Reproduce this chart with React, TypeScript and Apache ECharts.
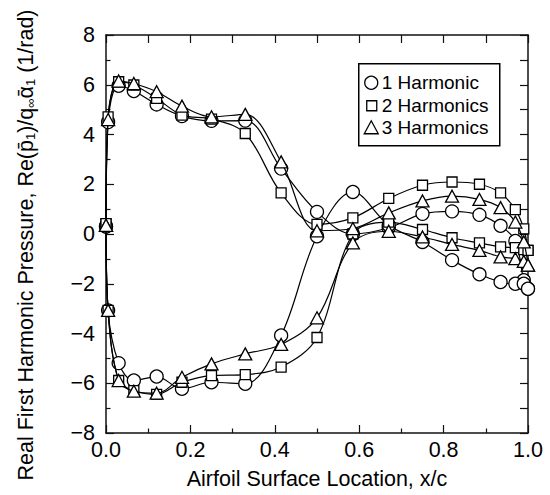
import React, { useEffect, useRef } from "react";
import * as echarts from "echarts";

// x/c stations
const X = [0, 0.005, 0.03, 0.066, 0.12, 0.18, 0.25, 0.33, 0.415, 0.5, 0.585, 0.67, 0.75, 0.82, 0.885, 0.935, 0.97, 0.99, 1.0];

// 1 Harmonic
const H1_UPPER = [0.3, 4.5, 5.96, 5.75, 5.21, 4.74, 4.55, 4.56, 2.63, 0.89, 0.0, 0.25, 0.81, 0.91, 0.77, 0.33, -0.28, -1.86, -2.2];
const H1_LOWER = [0.3, -3.07, -5.19, -5.89, -5.73, -6.22, -5.96, -6.02, -4.08, -0.09, 1.69, 0.35, -0.32, -1.05, -1.62, -1.93, -2.0, -2.0, -2.2];
// 2 Harmonics
const H2_UPPER = [0.42, 4.71, 6.12, 5.99, 5.45, 4.78, 4.62, 4.04, 1.65, 0.39, 0.65, 1.43, 1.96, 2.09, 2.0, 1.65, 0.98, 0.21, -0.66];
const H2_LOWER = [0.42, -3.07, -5.89, -6.3, -6.45, -5.96, -5.69, -5.65, -5.35, -4.16, 0.0, 0.48, 0.18, -0.15, -0.36, -0.52, -0.55, -0.63, -0.66];
// 3 Harmonics
const H3_UPPER = [0.35, 4.6, 6.15, 6.05, 5.72, 5.14, 4.71, 4.81, 2.9, 0.13, 0.22, 0.85, 1.33, 1.52, 1.39, 1.06, 0.48, -0.32, -1.25];
const H3_LOWER = [0.35, -3.07, -5.89, -6.32, -6.4, -5.76, -5.22, -4.82, -4.44, -3.37, -0.36, 0.11, -0.12, -0.42, -0.66, -0.92, -0.99, -1.1, -1.25];

const SERIES_NAMES = ["1 Harmonic", "2 Harmonics", "3 Harmonics"];
const X_TITLE = "Airfoil Surface Location, x/c";
const Y_TITLE = "Real First Harmonic Pressure, Re(p\u0304{sub|1})/q{sub|\u221e}\u03b1\u0304{sub|1} (1/rad)";

const FONT = '"Liberation Sans", Arial, Helvetica, sans-serif';

export default function App() {
  const ref = useRef<HTMLDivElement>(null);
  useEffect(() => {
    if (!ref.current) return;
    const chart = echarts.init(ref.current, null, { renderer: "svg" });
    const defs = [
      { name: SERIES_NAMES[0], symbol: "circle", size: 13, up: H1_UPPER, lo: H1_LOWER },
      { name: SERIES_NAMES[1], symbol: "rect", size: 10, up: H2_UPPER, lo: H2_LOWER },
      { name: SERIES_NAMES[2], symbol: "triangle", size: [13, 12], up: H3_UPPER, lo: H3_LOWER },
    ];
    const series: any[] = [];
    defs.forEach((d, k) => {
      [d.up, d.lo].forEach((arr) => {
        series.push({
          name: d.name,
          type: "line",
          data: X.map((x, i) => [x, arr[i]]),
          symbol: d.symbol,
          symbolSize: d.size,
          showSymbol: true,
          smooth: 0.35,
          clip: false,
          z: 2 + k,
          silent: true,
          lineStyle: { color: "#000", width: 1.2 },
          itemStyle: { color: "#fff", borderColor: "#000", borderWidth: 1.3 },
          emphasis: { disabled: true },
        });
      });
    });
    const lineStyle = { color: "#111", width: 1.5 };
    chart.setOption({
      animation: false,
      backgroundColor: "#fff",
      grid: { left: 106, right: 22, top: 35, bottom: 62, show: false, containLabel: false, outerBoundsMode: "none" },
      xAxis: [
        {
          type: "value", min: 0, max: 1, interval: 0.2, position: "bottom",
          axisLine: { show: true, onZero: false, lineStyle },
          axisTick: { show: true, inside: true, length: 8, lineStyle: { color: "#111", width: 1.2 } },
          minorTick: { show: true, splitNumber: 2, length: 4.5, lineStyle: { color: "#111", width: 1.2 } },
          splitLine: { show: false },
          axisLabel: { color: "#000", fontSize: 21.5, fontFamily: FONT, margin: 6, formatter: (v: number) => v.toFixed(1) },
          name: X_TITLE, nameLocation: "middle", nameGap: 35,
          nameTextStyle: { color: "#000", fontSize: 21.5, fontFamily: FONT },
        },
        {
          type: "value", min: 0, max: 1, interval: 0.1, position: "top",
          axisLine: { show: true, onZero: false, lineStyle },
          axisTick: { show: true, inside: true, length: 8, lineStyle: { color: "#111", width: 1.2 } },
          splitLine: { show: false }, axisLabel: { show: false },
        },
      ],
      yAxis: [
        {
          type: "value", min: -8, max: 8, interval: 2, position: "left",
          axisLine: { show: true, onZero: false, lineStyle },
          axisTick: { show: true, inside: true, length: 8, lineStyle: { color: "#111", width: 1.2 } },
          minorTick: { show: true, splitNumber: 2, length: 4.5, lineStyle: { color: "#111", width: 1.2 } },
          splitLine: { show: false },
          axisLabel: {
            color: "#000", fontSize: 21.5, fontFamily: FONT, margin: 11,
            formatter: (v: number) => (v < 0 ? "\u2212" + Math.abs(v) : String(v)),
          },
        },
        {
          type: "value", min: -8, max: 8, interval: 1, position: "right",
          axisLine: { show: true, onZero: false, lineStyle },
          axisTick: { show: true, inside: true, length: 8, lineStyle: { color: "#111", width: 1.2 } },
          splitLine: { show: false }, axisLabel: { show: false },
        },
      ],
      series,
      graphic: [
        {
          type: "text",
          x: 26, y: 245, rotation: Math.PI / 2,
          style: {
            text: Y_TITLE,
            fontSize: 21.5, fontFamily: FONT, fill: "#000",
            align: "center", verticalAlign: "middle",
            rich: { sub: { fontSize: 13, fontFamily: FONT, lineHeight: 8, verticalAlign: "bottom", fill: "#000" } },
          },
        },
        {
          type: "group", left: 358, top: 63, z: 100,
          children: [
            { type: "rect", shape: { x: 0, y: 0, width: 141, height: 82 }, style: { fill: "#fff", stroke: "#000", lineWidth: 1.5 } },
            { type: "circle", shape: { cx: 12.5, cy: 19, r: 6.5 }, style: { fill: "#fff", stroke: "#000", lineWidth: 1.3 } },
            { type: "rect", shape: { x: 8, y: 37, width: 10, height: 10 }, style: { fill: "#fff", stroke: "#000", lineWidth: 1.3 } },
            { type: "polygon", shape: { points: [[5.5, 70], [19.5, 70], [12.5, 57]] }, style: { fill: "#fff", stroke: "#000", lineWidth: 1.3 } },
            { type: "text", x: 23, y: 19, style: { text: SERIES_NAMES[0], fontSize: 19, fontFamily: FONT, fill: "#000", verticalAlign: "middle" } },
            { type: "text", x: 23, y: 42, style: { text: SERIES_NAMES[1], fontSize: 19, fontFamily: FONT, fill: "#000", verticalAlign: "middle" } },
            { type: "text", x: 23, y: 64, style: { text: SERIES_NAMES[2], fontSize: 19, fontFamily: FONT, fill: "#000", verticalAlign: "middle" } },
          ],
        },
      ],
    });
    return () => chart.dispose();
  }, []);
  return <div ref={ref} style={{ position: "fixed", left: 0, top: 0, width: 550, height: 495 }} />;
}
